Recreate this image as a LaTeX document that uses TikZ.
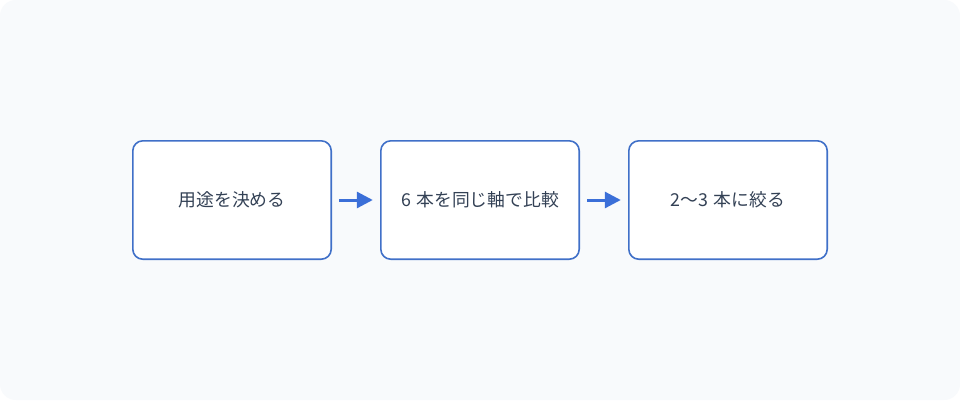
\documentclass[tikz,border=0pt]{standalone}
\usepackage{fontspec}
\setmainfont{Noto Sans CJK JP}
\usetikzlibrary{arrows.meta}
\definecolor{bgc}{HTML}{F8FAFC}
\definecolor{boxc}{HTML}{4070C8}
\definecolor{arrc}{HTML}{3B6FD8}
\definecolor{txtc}{HTML}{334155}
\tikzset{
  stepbox/.style={draw=boxc, line width=1.6pt, fill=white, rounded corners=10pt,
    minimum width=198.4pt, minimum height=118.4pt, inner sep=0pt,
    text=txtc, font=\fontsize{17.8pt}{20pt}\selectfont},
  flow/.style={draw=arrc, line width=3pt, -{Triangle[length=16pt,width=16pt]}, shorten >=0pt}
}
\begin{document}
\begin{tikzpicture}[x=1pt,y=-1pt]
\useasboundingbox (0,0) rectangle (960,400);
\fill[white] (0,0) rectangle (960,400);
\fill[bgc, rounded corners=16pt] (0,0) rectangle (960,400);
\node[stepbox] (a) at (232,200) {用途を決める};
\node[stepbox] (b) at (480,200) {6\hspace{0.3em}本を同じ軸で比較};
\node[stepbox] (c) at (728,200) {2〜3\hspace{0.3em}本に絞る};
\draw[flow] ([xshift=7.2pt]a.east) -- ([xshift=-7.2pt]b.west);
\draw[flow] ([xshift=7.2pt]b.east) -- ([xshift=-7.2pt]c.west);
\end{tikzpicture}
\end{document}
